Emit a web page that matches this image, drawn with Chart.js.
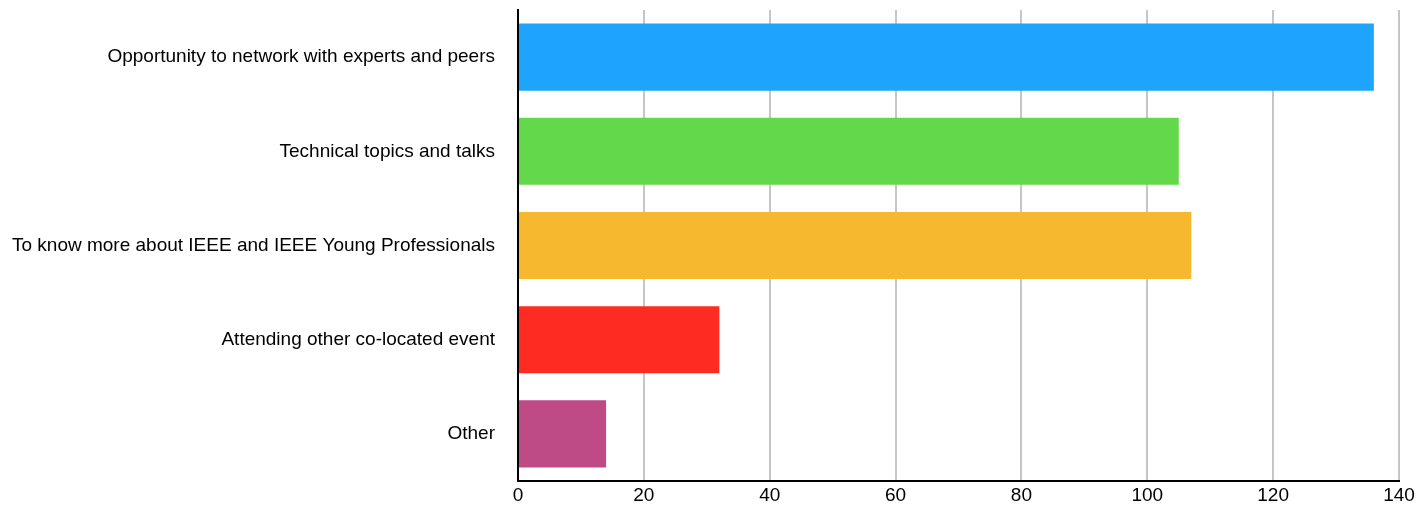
<!DOCTYPE html>
<html><head><meta charset="utf-8">
<script src="https://cdn.jsdelivr.net/npm/chart.js@4/dist/chart.umd.min.js"></script>
<style>html,body{margin:0;padding:0;background:#fff}#wrap{width:1427px;height:510px}</style>
</head><body><div id="wrap"><canvas id="c" width="1427" height="510"></canvas></div>
<script>
const categories = ["Opportunity to network with experts and peers","Technical topics and talks","To know more about IEEE and IEEE Young Professionals","Attending other co-located event","Other"];
const values = [136, 105, 107, 32, 14];
const barColors = ["#1ea4fd","#62d84a","#f6b82e","#fe2b20","#be4a86"];
const xTicks = [0,20,40,60,80,100,120,140];

new Chart(document.getElementById('c'), {
  type: 'bar',
  data: { labels: categories, datasets: [{ data: values, backgroundColor: barColors, categoryPercentage: 0.712, barPercentage: 1.0 }] },
  options: {
    indexAxis: 'y', responsive: false, animation: false,
    layout: { padding: { top: 10, right: 28, left: 0, bottom: 0 } },
    plugins: { legend: { display: false }, tooltip: { enabled: false } },
    scales: {
      x: { min: 0, max: 140,
        afterBuildTicks: s => { s.ticks = xTicks.map(v => ({value: v})); },
        afterFit: s => { s.height = 29; s.paddingLeft = 0; s.paddingRight = 0; },
        grid: { color: '#c6c6c6', lineWidth: 2, drawTicks: false },
        border: { color: '#000', width: 2 },
        ticks: { color: '#000', font: { family: 'Liberation Sans, Arial', size: 19 }, padding: 3 } },
      y: {
        afterFit: s => { s.width = 518; s.paddingTop = 0; s.paddingBottom = 0; },
        grid: { display: false, drawTicks: false },
        border: { color: '#000', width: 2 },
        ticks: { color: '#000', font: { family: 'Liberation Sans, Arial', size: 19 }, padding: 23 } }
    }
  }
});
</script></body></html>
